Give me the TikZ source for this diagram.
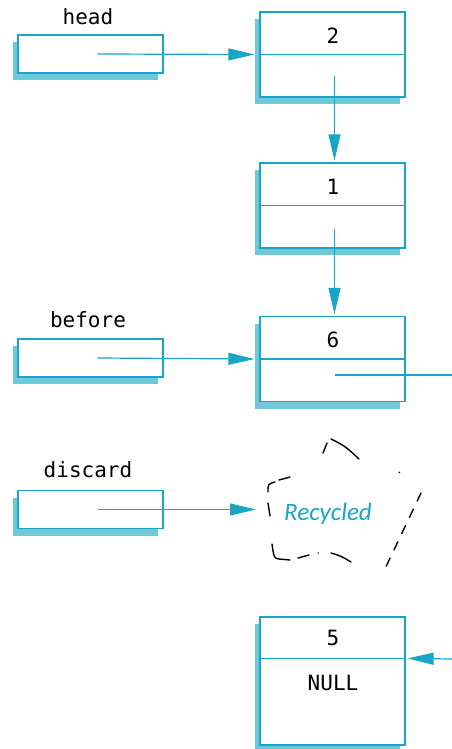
\documentclass[tikz,border=0pt]{standalone}
\usepackage{fontspec}
\setmonofont{DejaVu Sans Mono}
\newfontfamily\recfont{Carlito}
\usetikzlibrary{arrows.meta,calc,shadows}
\definecolor{lnk}{RGB}{24,165,200}
\definecolor{shd}{RGB}{112,200,216}
\tikzset{
  boxsh/.style={draw=lnk,line width=1.2pt,fill=white,
    general shadow={fill=shd,shadow xshift=-5pt,shadow yshift=-7pt}},
  ptrbox/.style={boxsh,minimum width=145pt,minimum height=38pt,inner sep=0pt},
  listbox/.style={boxsh,minimum width=145pt,minimum height=85pt,inner sep=0pt},
  txt/.style={font=\ttfamily\fontsize{21}{24}\selectfont,inner sep=0.75pt},
  lnkarr/.style={draw=lnk,line width=1.2pt,-{Triangle[length=26pt,width=12pt]}},
  torn/.style={line width=1.4pt,line cap=round,line join=round}
}
\begin{document}
\begin{tikzpicture}[x=1pt,y=1pt,yscale=-1,xscale=1]
\useasboundingbox (0,0) rectangle (452,749);
% pointer variables
\node[ptrbox] (hd) at (90.5,54) {};
\node[ptrbox] (bf) at (90.5,358) {};
\node[ptrbox] (dc) at (90.5,509.5) {};
\node[txt] (hdl) at (88,17) {head};
\node[txt] (bfl) at (88,320) {before};
\node[txt] (dcl) at (88,470) {discard};
% list nodes
\node[listbox] (n2) at (332.5,54.5) {};
\node[listbox] (n1) at (332.5,205.5) {};
\node[listbox] (n6) at (332.5,359) {};
\node[boxsh,minimum width=145pt,minimum height=128pt,inner sep=0pt] (n5) at (332.5,681) {};
\draw[draw=lnk,line width=1.2pt] (n2.west) -- (n2.east);
\draw[draw=lnk,line width=1.2pt] (n1.west) -- (n1.east);
\draw[draw=lnk,line width=1.2pt] (n6.west) -- (n6.east);
\draw[draw=lnk,line width=1.2pt] ($(n5.north west)+(0,42)$) -- ($(n5.north east)+(0,42)$);
\node[txt] (v2) at (333,36) {2};
\node[txt] (v1) at (333,187) {1};
\node[txt] (v6) at (333,340) {6};
\node[txt] (v5) at (333,638) {5};
\node[txt] (v5n) at (333,683) {NULL};
% freed node, torn outline
\draw[torn] (323,453) -- (327,443)
  (331,439) .. controls (345,446) .. (359,459)
  (399,472) -- (399.5,472.5)
  (318,553) -- (318.5,553)
  (351,562) .. controls (341,556) .. (331,553)
  (309,555) -- (298,558)
  (290,560) -- (279,559) .. controls (274,558) .. (272,544)
  (270,516) -- (268,503)
  (268,492) .. controls (268,484) .. (275,482)
  (279,480) -- (290,477);
\draw[torn,dash pattern=on 9pt off 9pt] (421,493) -- (383,573);
\node[font=\recfont\itshape\fontsize{25}{28}\selectfont,text=lnk] (rc) at (328,514) {Recycled};
\coordinate (rcin) at (256,509.5);
\coordinate (n6out) at (452,375);
\coordinate (n5in) at (452,659);
% links
\draw[lnkarr] ($(hd.center)+(7,0)$) -- ($(n2.west)+(-5,0)$);
\draw[lnkarr] ($(bf.center)+(7,0)$) -- ($(n6.west)+(-5,0)$);
\draw[lnkarr] ($(dc.center)+(7,0)$) -- (rcin);
\draw[lnkarr] ($(n2.south)+(2,-22)$) -- ($(n1.north)+(2,-2)$);
\draw[lnkarr] ($(n1.south)+(2,-20)$) -- ($(n6.north)+(2,-2)$);
\draw[draw=lnk,line width=1.2pt] ($(n6.center)+(2,16)$) -- (n6out);
\draw[lnkarr] (n5in) -- ($(n5.north east)+(2,42)$);
\end{tikzpicture}
\end{document}
